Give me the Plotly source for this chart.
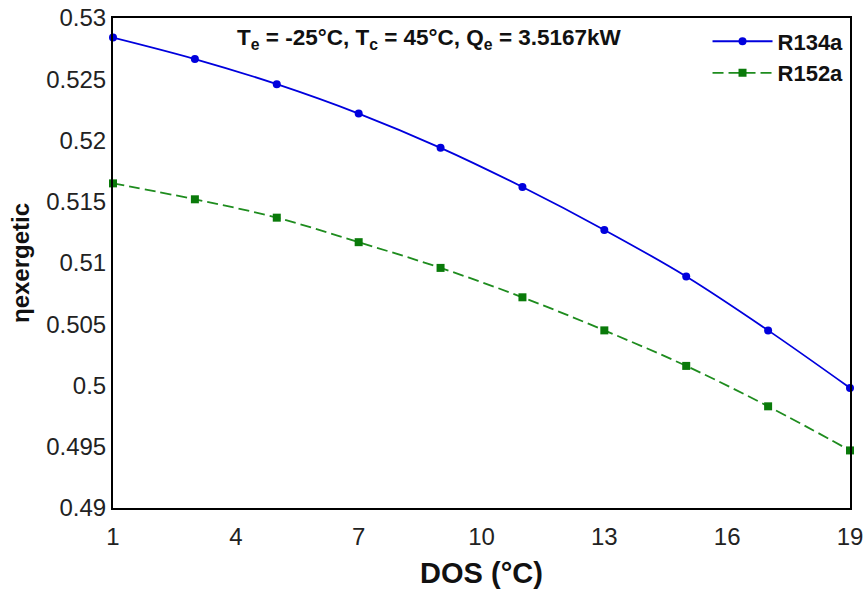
import plotly.graph_objects as go

dos = [1, 3, 5, 7, 9, 11, 13, 15, 17, 19]
r134a = [0.5284, 0.52665, 0.5246, 0.5222, 0.5194, 0.5162, 0.5127, 0.5089, 0.5045, 0.4998]
r152a = [0.5165, 0.5152, 0.5137, 0.5117, 0.5096, 0.5072, 0.5045, 0.5016, 0.4983, 0.4947]
x_ticks = [1, 4, 7, 10, 13, 16, 19]
y_ticks = [0.49, 0.495, 0.5, 0.505, 0.51, 0.515, 0.52, 0.525, 0.53]

fig = go.Figure()
fig.add_trace(go.Scatter(
    x=dos, y=r134a, name="<b>R134a</b>", mode="lines+markers",
    line=dict(color="#0000dd", width=1.8, shape="spline"),
    marker=dict(symbol="circle", size=8, color="#0000dd"),
    cliponaxis=False))
fig.add_trace(go.Scatter(
    x=dos, y=r152a, name="<b>R152a</b>", mode="lines+markers",
    line=dict(color="#1e8c1e", width=1.8, shape="spline", dash="11px,5px"),
    marker=dict(symbol="square", size=8, color="#0a7a0a"),
    cliponaxis=False))

axis_common = dict(showline=True, linecolor="black", linewidth=2, mirror=True,
                   showgrid=False, zeroline=False, ticks="", automargin=False,
                   ticklabeloverflow="allow",
                   tickfont=dict(size=24, color="#222"))

fig.update_xaxes(range=[1, 19], tickvals=x_ticks, ticklabelstandoff=6, **axis_common,
                 title=dict(text="<b>DOS (°C)</b>", font=dict(size=29, color="#111"), standoff=18))
fig.update_yaxes(range=[0.49, 0.53], tickvals=y_ticks,
                 ticktext=[f"{v:g}" for v in y_ticks], **axis_common,
                 title=dict(text="<b>ηexergetic</b>", font=dict(size=24, color="#111"), standoff=10))

fig.add_annotation(
    x=0.43, y=0.99, xref="paper", yref="paper", xanchor="center", yanchor="top",
    text="<b>T<sub>e</sub> = -25°C, T<sub>c</sub> = 45°C, Q<sub>e</sub> = 3.5167kW</b>",
    showarrow=False, font=dict(size=22.5, color="#111"))

fig.update_layout(
    width=864, height=589,
    font=dict(family="Liberation Sans, Arial, sans-serif"),
    paper_bgcolor="white", plot_bgcolor="white",
    margin=dict(l=113, r=14, t=18, b=81),
    legend=dict(x=0.998, y=0.995, xanchor="right", yanchor="top",
                bgcolor="rgba(0,0,0,0)", font=dict(size=22, color="#111"),
                itemwidth=60, tracegroupgap=4),
)

# drop the page's default 8px body margin so the figure fills the window
fig.write_html("out.html", config={"displayModeBar": False},
               post_script="document.body.style.margin='0';")
